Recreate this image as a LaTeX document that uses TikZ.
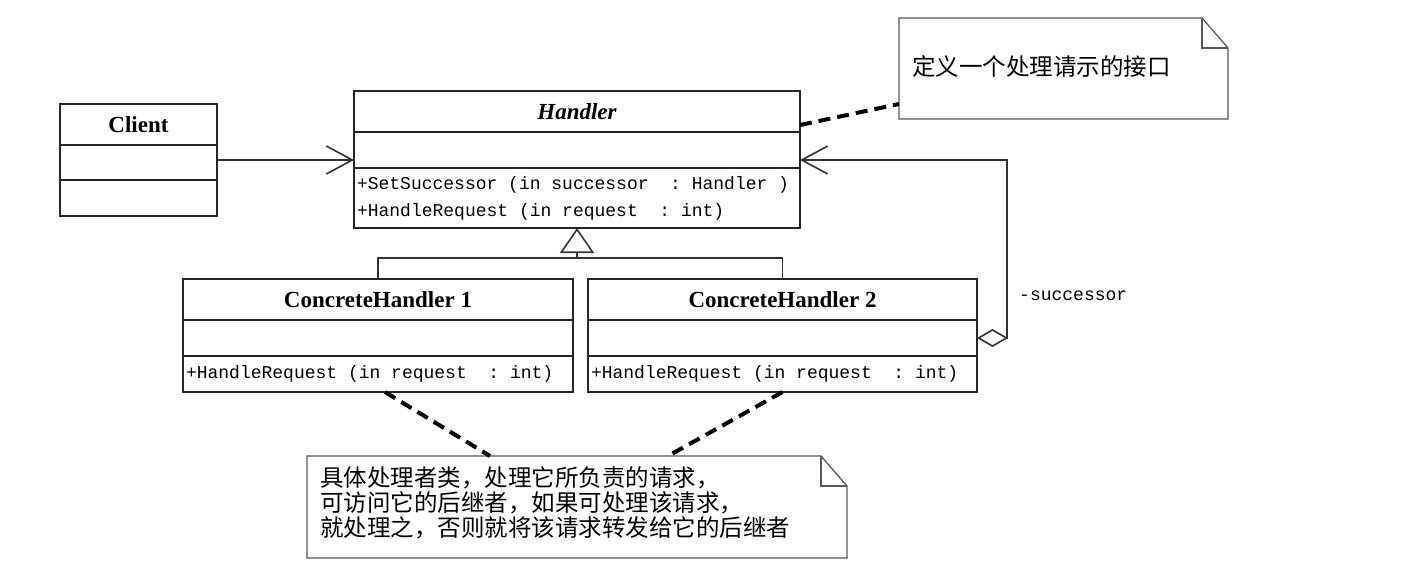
\documentclass[tikz,border=0pt]{standalone}
\usepackage{fontspec}
\setmainfont{Liberation Serif}
\newfontfamily\cjk{Noto Sans CJK SC}
\newfontfamily\mono{Liberation Mono}
\newcommand\ms{\hspace{0.6em}}
\usetikzlibrary{arrows.meta}

\begin{document}
\begin{tikzpicture}[x=1pt,y=-1pt,
  comp/.style={draw=black!85, line width=1.6pt, rectangle, anchor=north west, inner sep=0pt, outer sep=0pt},
  ttl/.style={comp, font=\fontsize{23}{23}\selectfont\bfseries},
  ops/.style={comp, align=left, font=\fontsize{18}{27}\selectfont\mono, inner xsep=3pt},
  notebody/.style={rectangle, draw=none, anchor=north west, inner sep=0pt, outer sep=0pt},
  noteline/.style={draw=black!65, line width=1.3pt, line join=miter},
  notelink/.style={draw=black, line width=4pt, dash pattern=on 12pt off 7pt},
  assoc/.style={draw=black!80, line width=1.6pt},
  cjktext/.style={font=\fontsize{23.5}{25}\selectfont\cjk, inner sep=0pt, align=left}
]
\fill[white] (0,0) rectangle (1412,565);
\useasboundingbox (0,0) rectangle (1412,565);

% Client
\node[ttl, minimum width=157pt, minimum height=41pt] (cl1) at (60,104) {Client};
\node[comp, minimum width=157pt, minimum height=35pt] (cl2) at (cl1.south west) {};
\node[comp, minimum width=157pt, minimum height=36pt] (cl3) at (cl2.south west) {};

% Handler
\node[ttl, minimum width=446pt, minimum height=41pt] (h1) at (354,91) {\itshape Handler};
\node[comp, minimum width=446pt, minimum height=36pt] (h2) at (h1.south west) {};
\node[ops, text width=440pt, minimum height=60pt] (h3) at (h2.south west) {+SetSuccessor\ms(in\ms successor\ms\ms:\ms Handler\ms)\\+HandleRequest\ms(in\ms request\ms\ms:\ms int)};

% ConcreteHandler 1
\node[ttl, minimum width=390pt, minimum height=41pt] (c1t) at (183,279) {ConcreteHandler 1};
\node[comp, minimum width=390pt, minimum height=36pt] (c1a) at (c1t.south west) {};
\node[ops, text width=384pt, minimum height=36pt] (c1m) at (c1a.south west) {+HandleRequest\ms(in\ms request\ms\ms:\ms int)};

% ConcreteHandler 2
\node[ttl, minimum width=389pt, minimum height=41pt] (c2t) at (588,279) {ConcreteHandler 2};
\node[comp, minimum width=389pt, minimum height=36pt] (c2a) at (c2t.south west) {};
\node[ops, text width=383pt, minimum height=36pt] (c2m) at (c2a.south west) {+HandleRequest\ms(in\ms request\ms\ms:\ms int)};

% Note 1
\node[notebody, minimum width=329pt, minimum height=101pt] (n1) at (899,18) {};
\draw[noteline] (n1.north west) -- ([xshift=-26pt]n1.north east) -- ([yshift=-30pt]n1.north east) -- (n1.south east) -- (n1.south west) -- cycle;
\draw[noteline] ([xshift=-26pt]n1.north east) |- ([yshift=-30pt]n1.north east);
\node[cjktext, anchor=base west] (n1t) at (912,75) {定义一个处理请示的接口};

% Note 2
\node[notebody, minimum width=540pt, minimum height=102pt] (n2) at (307,456) {};
\draw[noteline] (n2.north west) -- ([xshift=-26pt]n2.north east) -- ([yshift=-30pt]n2.north east) -- (n2.south east) -- (n2.south west) -- cycle;
\draw[noteline] ([xshift=-26pt]n2.north east) |- ([yshift=-30pt]n2.north east);
\node[cjktext, anchor=north west] (n2t) at (320,466) {具体处理者类，处理它所负责的请求，\\可访问它的后继者，如果可处理该请求，\\就处理之，否则就将该请求转发给它的后继者};

% Client -> Handler
\draw[assoc, -{Straight Barb[length=26pt,width=28pt]}] ([yshift=2.5pt]cl2.east) -- ([yshift=2.5pt]cl2.east -| h2.west);

% Generalization
\coordinate (jn) at (577,258);
\draw[assoc] (c1t.north) |- (jn) -| (c2t.north);
\draw[assoc, -{Triangle[open,length=25pt,width=34pt]}] (jn) -- (h3.south);

% successor aggregation
\draw[assoc, {Diamond[open,length=31pt,width=18pt]}-{Straight Barb[length=26pt,width=28pt]}] (c2a.east) -| ([xshift=207pt,yshift=-10pt]h2.east) -- ([yshift=-10pt]h2.east);
\node[font=\fontsize{18}{18}\selectfont\mono, anchor=west, inner sep=0pt] (lbl) at (1019,296) {-successor};

% Note links
\draw[notelink] ([yshift=7pt]h1.south east) -- ([yshift=15pt]n1.south west);
\draw[notelink] ([xshift=7pt]c1m.south) -- ([xshift=-87pt]n2.north);
\draw[notelink] (c2m.south) -- ([xshift=91pt]n2.north);
\end{tikzpicture}
\end{document}
